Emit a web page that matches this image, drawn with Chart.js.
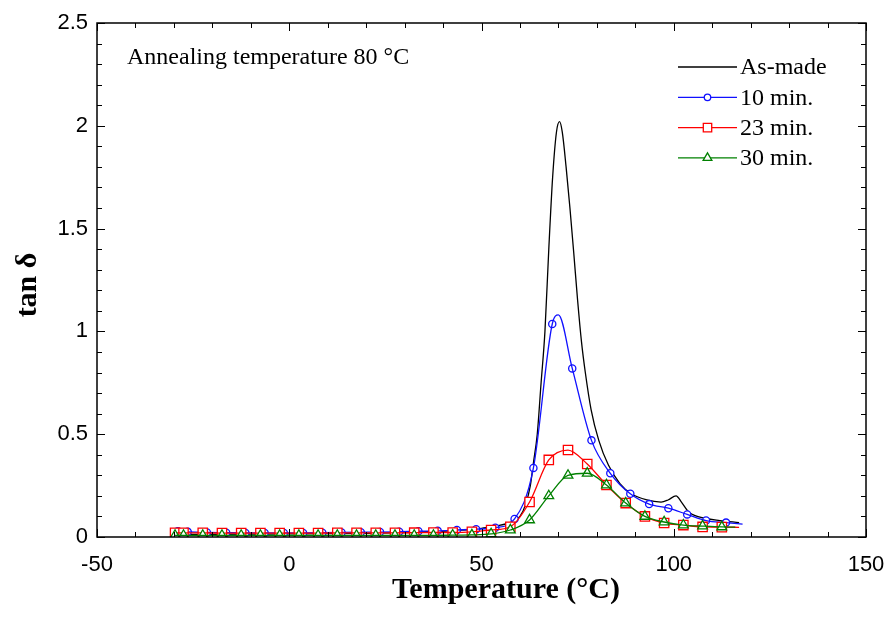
<!DOCTYPE html>
<html>
<head>
<meta charset="utf-8">
<script src="https://cdn.jsdelivr.net/npm/chart.js@4.4.1/dist/chart.umd.min.js"></script>
<style>
  html, body { margin: 0; padding: 0; background: #fff; }
  #wrap { width: 888px; height: 621px; }
</style>
</head>
<body>
<div id="wrap"><canvas id="tanChart" width="888" height="621"></canvas></div>
<script>
// axis ticks
var xTicks = [-50, 0, 50, 100, 150];
var yTicks = [0, 0.5, 1, 1.5, 2, 2.5];

// As-made (line only)
var tAsMade = [-30, -20, -10, 0, 10, 20, 30, 40, 45, 50, 54, 56, 58, 60, 61.5, 62.7, 63.5, 64.5, 65.5, 66.5, 67.5, 68.5, 69.5, 70.3, 71, 72, 73, 74, 75, 76, 77, 78.5, 80.5, 83, 86, 89, 93, 96.7, 98.5, 100.6, 102, 104, 108.4, 112, 117];
var vAsMade = [0.012, 0.013, 0.014, 0.015, 0.016, 0.018, 0.022, 0.028, 0.033, 0.042, 0.055, 0.062, 0.075, 0.1, 0.16, 0.25, 0.36, 0.5, 0.75, 1.0, 1.4, 1.75, 1.97, 2.02, 1.97, 1.8, 1.6, 1.38, 1.15, 0.95, 0.8, 0.62, 0.47, 0.35, 0.26, 0.21, 0.18, 0.17, 0.18, 0.2, 0.17, 0.12, 0.09, 0.08, 0.07];

// 10 min (markers + extra curve points)
var t10 = [-29, -26.4, -21.4, -16.4, -11.4, -6.4, -1.4, 3.6, 8.6, 13.6, 18.6, 23.6, 28.6, 33.6, 38.6, 43.6, 48.6, 53.6, 58.6, 63.5, 68.4, 73.6, 78.6, 83.5, 88.7, 93.6, 98.6, 103.5, 108.4, 113.6];
var v10 = [0.028, 0.025, 0.022, 0.021, 0.02, 0.02, 0.02, 0.02, 0.021, 0.022, 0.023, 0.024, 0.026, 0.028, 0.03, 0.034, 0.038, 0.045, 0.088, 0.336, 1.036, 0.82, 0.47, 0.31, 0.21, 0.16, 0.14, 0.11, 0.08, 0.07];
var t10Extra = [70, 117.9];
var v10Extra = [1.08, 0.063];

// 23 min
var t23 = [-29.7, -27.5, -22.5, -17.5, -12.5, -7.5, -2.5, 2.5, 7.5, 12.5, 17.5, 22.5, 27.5, 32.5, 37.5, 42.5, 47.5, 52.5, 57.5, 62.5, 67.5, 72.5, 77.5, 82.5, 87.5, 92.5, 97.5, 102.5, 107.5, 112.5];
var v23 = [0.02, 0.02, 0.02, 0.019, 0.019, 0.019, 0.019, 0.019, 0.019, 0.02, 0.02, 0.02, 0.02, 0.021, 0.022, 0.022, 0.025, 0.034, 0.05, 0.17, 0.375, 0.423, 0.355, 0.253, 0.165, 0.1, 0.068, 0.058, 0.049, 0.048];
var t23Extra = [117];
var v23Extra = [0.047];

// 30 min
var t30 = [-29.7, -27.5, -22.5, -17.5, -12.5, -7.5, -2.5, 2.5, 7.5, 12.5, 17.5, 22.5, 27.5, 32.5, 37.5, 42.5, 47.5, 52.5, 57.5, 62.5, 67.5, 72.5, 77.5, 82.5, 87.5, 92.5, 97.5, 102.5, 107.5, 112.5];
var v30 = [0.008, 0.008, 0.008, 0.008, 0.008, 0.008, 0.008, 0.008, 0.008, 0.008, 0.008, 0.008, 0.008, 0.008, 0.008, 0.009, 0.01, 0.015, 0.034, 0.083, 0.2, 0.3, 0.31, 0.253, 0.165, 0.1, 0.073, 0.058, 0.053, 0.049];
var t30Extra = [116];
var v30Extra = [0.048];

function pts(ts, vs) {
  return ts.map(function(t, i) { return { x: t, y: vs[i] }; });
}
function linePts(ts, vs, te, ve) {
  return pts(ts, vs).concat(pts(te, ve)).sort(function(a, b) { return a.x - b.x; });
}

var series = [
  { label: "As-made", color: "#000000", marker: null, radius: 0 },
  { label: "10 min.", color: "#1010ff", marker: "circle", radius: 3.6 },
  { label: "23 min.", color: "#ff0000", marker: "rect", radius: 6.6 },
  { label: "30 min.", color: "#008000", marker: "triangle", radius: 5.6 }
];

function lineSet(data, color) {
  return {
    data: data, showLine: true, borderColor: color, borderWidth: 1.3, pointRadius: 0,
    cubicInterpolationMode: "monotone", fill: false
  };
}
function markSet(data, s) {
  return {
    data: data, showLine: false, borderColor: s.color, backgroundColor: "#ffffff",
    pointStyle: s.marker, pointRadius: s.radius, pointBorderWidth: 1.3
  };
}

var datasets = [
  lineSet(linePts(t30, v30, t30Extra, v30Extra), series[3].color),
  markSet(pts(t30, v30), series[3]),
  lineSet(linePts(t23, v23, t23Extra, v23Extra), series[2].color),
  markSet(pts(t23, v23), series[2]),
  lineSet(linePts(t10, v10, t10Extra, v10Extra), series[1].color),
  markSet(pts(t10, v10), series[1]),
  lineSet(pts(tAsMade, vAsMade), series[0].color)
];

var serif = "'Liberation Serif', 'Times New Roman', serif";
var sans = "'Liberation Sans', Arial, sans-serif";

// frame, inner ticks, titles, legend, note
var decor = {
  id: "decor",
  afterDraw: function(chart) {
    var c = chart.ctx, a = chart.chartArea;
    var xs = chart.scales.x, ys = chart.scales.y;
    c.save();
    c.strokeStyle = "#000";
    c.lineWidth = 1.5;
    c.strokeRect(a.left, a.top, a.right - a.left, a.bottom - a.top);
    c.lineWidth = 1;
    var v, px, len;
    for (v = -50; v <= 150; v += 10) {
      px = Math.round(xs.getPixelForValue(v)) + 0.5;
      len = (v % 50 === 0) ? 8 : 5;
      c.beginPath();
      c.moveTo(px, a.bottom); c.lineTo(px, a.bottom - len);
      c.moveTo(px, a.top); c.lineTo(px, a.top + len);
      c.stroke();
    }
    for (var k = 0; k <= 25; k++) {
      v = k / 10;
      px = Math.round(ys.getPixelForValue(v)) + 0.5;
      len = (k % 5 === 0) ? 8 : 5;
      c.beginPath();
      c.moveTo(a.left, px); c.lineTo(a.left + len, px);
      c.moveTo(a.right, px); c.lineTo(a.right - len, px);
      c.stroke();
    }

    c.fillStyle = "#000";
    c.font = "bold 30px " + serif;
    c.textAlign = "center";
    c.textBaseline = "alphabetic";
    c.fillText("Temperature (\u00b0C)", 506, 598);
    c.save();
    c.translate(36, 285);
    c.rotate(-Math.PI / 2);
    c.fillText("tan \u03b4", 0, 0);
    c.restore();

    c.font = "24px " + serif;
    c.textAlign = "left";
    c.textBaseline = "middle";
    c.fillText("Annealing temperature 80 \u00b0C", 127, 58);

    var lx0 = a.right - 188, lx1 = a.right - 129, mx = (lx0 + lx1) / 2;
    series.forEach(function(s, i) {
      var y = 67 + i * 30.3;
      c.strokeStyle = s.color;
      c.lineWidth = 1.3;
      c.beginPath(); c.moveTo(lx0, y); c.lineTo(lx1, y); c.stroke();
      if (s.marker) {
        c.fillStyle = "#ffffff";
        Chart.helpers.drawPoint(c, {
          pointStyle: s.marker, radius: s.radius * 0.9, borderWidth: 1.3, rotation: 0
        }, mx, y);
      }
      c.fillStyle = "#000";
      c.fillText(s.label, lx1 + 3, y + 1);
    });
    c.restore();
  }
};

var ctx = document.getElementById("tanChart").getContext("2d");
new Chart(ctx, {
  type: "scatter",
  data: { datasets: datasets },
  options: {
    responsive: false,
    animation: false,
    layout: { padding: { top: 23, right: 22, left: 0, bottom: 0 } },
    plugins: { legend: { display: false }, tooltip: { enabled: false } },
    scales: {
      x: {
        type: "linear", min: -50, max: 150,
        afterBuildTicks: function(s) { s.ticks = xTicks.map(function(v) { return { value: v }; }); },
        afterFit: function(s) { s.height = 84; s.paddingLeft = 0; s.paddingRight = 0; },
        grid: { display: false, drawTicks: false },
        border: { display: false },
        ticks: { color: "#000", padding: 15, font: { family: sans, size: 22 }, callback: function(v) { return String(v); } }
      },
      y: {
        type: "linear", min: 0, max: 2.5,
        afterBuildTicks: function(s) { s.ticks = yTicks.map(function(v) { return { value: v }; }); },
        afterFit: function(s) { s.width = 97; s.paddingTop = 0; s.paddingBottom = 0; },
        grid: { display: false, drawTicks: false },
        border: { display: false },
        ticks: { color: "#000", padding: 9, font: { family: sans, size: 22 }, callback: function(v) { return String(v); } }
      }
    }
  },
  plugins: [decor]
});
</script>
</body>
</html>
